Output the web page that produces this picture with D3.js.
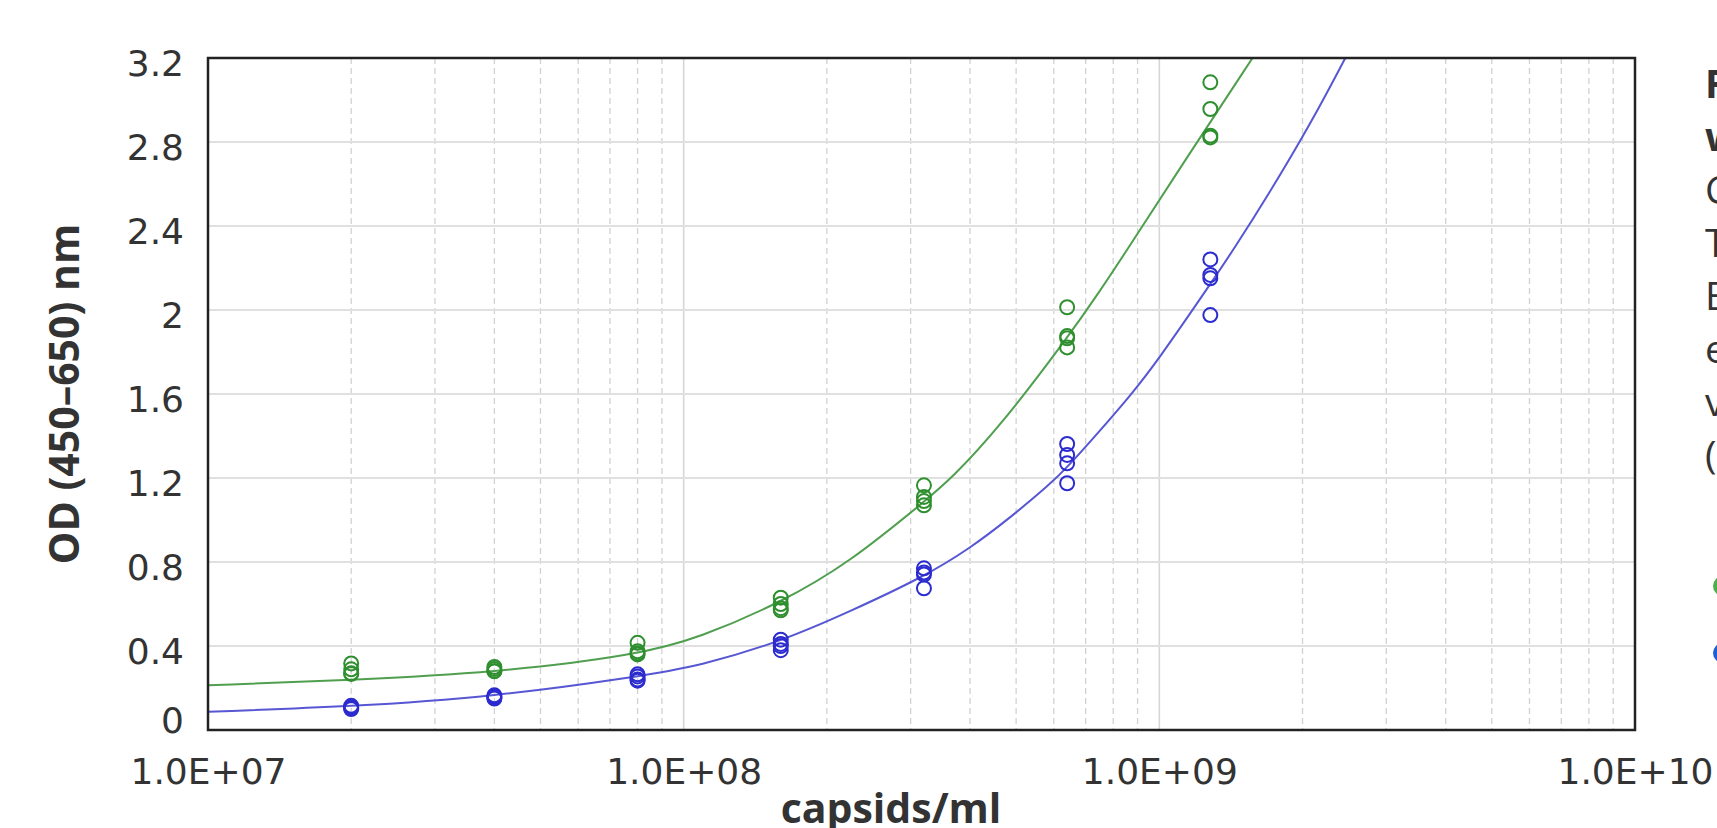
<!DOCTYPE html>
<html>
<head>
<meta charset="utf-8">
<script src="https://cdn.jsdelivr.net/npm/d3@7"></script>
<style>
  body { margin: 0; background: #fff; overflow: hidden; }
  svg { display: block; }
</style>
</head>
<body>
<script>
// Values
const concentrations = [2e7, 4e7, 8e7, 1.6e8, 3.2e8, 6.4e8, 1.28e9];

// four replicate ODs per concentration
const greenReplicates = [
  [0.317, 0.289, 0.267, 0.27],
  [0.30, 0.29, 0.28, 0.28],
  [0.415, 0.375, 0.365, 0.36],
  [0.63, 0.60, 0.58, 0.57],
  [1.165, 1.11, 1.09, 1.07],
  [2.013, 1.876, 1.865, 1.822],
  [3.084, 2.957, 2.83, 2.822]
];
const blueReplicates = [
  [0.115, 0.11, 0.105, 0.10],
  [0.165, 0.16, 0.155, 0.15],
  [0.265, 0.255, 0.24, 0.235],
  [0.43, 0.41, 0.40, 0.38],
  [0.77, 0.75, 0.74, 0.675],
  [1.362, 1.31, 1.27, 1.175],
  [2.241, 2.167, 2.151, 1.976]
];

// fitted curves
const greenFitX = [1e7, 2e7, 4e7, 8e7, 1.08e8, 1.6e8, 2.24e8, 3.2e8, 3.63e8, 4.62e8, 6.4e8, 7.5e8, 8.55e8, 1.17e9, 1.57e9];
const greenFitY = [0.213, 0.238, 0.273, 0.357, 0.44, 0.606, 0.80, 1.087, 1.19, 1.444, 1.865, 2.09, 2.285, 2.762, 3.2];
const blueFitX = [1e7, 2e7, 4e7, 8e7, 1.08e8, 1.6e8, 2.24e8, 3.2e8, 4.0e8, 4.85e8, 5.89e8, 6.4e8, 7.5e8, 8.67e8, 9.86e8, 1.28e9, 1.44e9, 1.68e9, 2.09e9, 2.46e9];
const blueFitY = [0.087, 0.111, 0.159, 0.254, 0.305, 0.421, 0.565, 0.73, 0.865, 1.01, 1.17, 1.25, 1.425, 1.59, 1.75, 2.123, 2.296, 2.534, 2.895, 3.2];

const xTicks = [1e7, 1e8, 1e9, 1e10];
const xTickLabels = ["1.0E+07", "1.0E+08", "1.0E+09", "1.0E+10"];
const yTicks = [0, 0.4, 0.8, 1.2, 1.6, 2, 2.4, 2.8, 3.2];
const yTickLabels = ["0", "0.4", "0.8", "1.2", "1.6", "2", "2.4", "2.8", "3.2"];

const captionLines = ["Figure", "with", "Capsid", "The", "ELISA", "expressed", "values", "(n=4)"];

// Layout
const width = 1717;
const height = 828;
const margin = { top: 58, right: 82, bottom: 98, left: 208 };
const innerWidth = width - margin.left - margin.right;
const innerHeight = height - margin.top - margin.bottom;

const greenLine = "#4f9f4f", greenDot = "#2f8f2f";
const blueLine = "#5757d4", blueDot = "#2b2bcf";

const svg = d3.select("body")
  .append("svg")
  .attr("width", width)
  .attr("height", height);

const x = d3.scaleLog().domain([1e7, 1e10]).range([0, innerWidth]);
const y = d3.scaleLinear().domain([0, 3.2]).range([innerHeight, 0]);

const g = svg.append("g")
  .attr("transform", `translate(${margin.left},${margin.top})`);

svg.append("defs").append("clipPath").attr("id", "plot")
  .append("rect").attr("width", innerWidth).attr("height", innerHeight);

// minor vertical grid (2..9 of each decade), dashed
const minor = [];
[1e7, 1e8, 1e9].forEach(d => { for (let k = 2; k <= 9; k++) minor.push(d * k); });
g.append("g").selectAll("line")
  .data(minor)
  .enter().append("line")
  .attr("x1", d => x(d)).attr("x2", d => x(d))
  .attr("y1", 0).attr("y2", innerHeight)
  .attr("stroke", "#d2d2d2")
  .attr("stroke-width", 1.3)
  .attr("stroke-dasharray", "6,4");

// decade lines
g.append("g").selectAll("line")
  .data(xTicks.slice(1, -1))
  .enter().append("line")
  .attr("x1", d => x(d)).attr("x2", d => x(d))
  .attr("y1", 0).attr("y2", innerHeight)
  .attr("stroke", "#d6d6d6")
  .attr("stroke-width", 1.6);

// horizontal grid
g.append("g").selectAll("line")
  .data(yTicks.slice(1, -1))
  .enter().append("line")
  .attr("x1", 0).attr("x2", innerWidth)
  .attr("y1", d => y(d)).attr("y2", d => y(d))
  .attr("stroke", "#e0e0e0")
  .attr("stroke-width", 2);

// fitted curves
const line = d3.line()
  .x(d => x(d[0]))
  .y(d => y(d[1]))
  .curve(d3.curveBasis);

const curves = g.append("g").attr("clip-path", "url(#plot)");
curves.append("path")
  .datum(d3.zip(greenFitX, greenFitY))
  .attr("fill", "none")
  .attr("stroke", greenLine)
  .attr("stroke-width", 2)
  .attr("d", line);
curves.append("path")
  .datum(d3.zip(blueFitX, blueFitY))
  .attr("fill", "none")
  .attr("stroke", blueLine)
  .attr("stroke-width", 2)
  .attr("d", line);

// replicate points
function flatten(reps) {
  const out = [];
  reps.forEach((r, i) => r.forEach(v => out.push([concentrations[i], v])));
  return out;
}
[[greenReplicates, greenDot], [blueReplicates, blueDot]].forEach(([reps, col]) => {
  g.append("g").selectAll("circle")
    .data(flatten(reps))
    .enter().append("circle")
    .attr("cx", d => x(d[0]))
    .attr("cy", d => y(d[1]))
    .attr("r", 7)
    .attr("fill", "none")
    .attr("stroke", col)
    .attr("stroke-width", 2);
});

// frame
g.append("rect")
  .attr("x", 0).attr("y", 0)
  .attr("width", innerWidth).attr("height", innerHeight)
  .attr("fill", "none")
  .attr("stroke", "#222")
  .attr("stroke-width", 2.5);

// axes (labels only, no tick marks)
const xAxis = d3.axisBottom(x)
  .tickValues(xTicks)
  .tickFormat((d, i) => xTickLabels[i])
  .tickSize(0)
  .tickPadding(28);
const yAxis = d3.axisLeft(y)
  .tickValues(yTicks)
  .tickFormat((d, i) => yTickLabels[i])
  .tickSize(0)
  .tickPadding(24);

const gx = g.append("g")
  .attr("transform", `translate(0,${innerHeight})`)
  .call(xAxis);
const gy = g.append("g").call(yAxis);

[gx, gy].forEach(a => {
  a.select(".domain").remove();
  a.selectAll("text")
    .attr("fill", "#333")
    .style("font-family", "'DejaVu Sans', sans-serif")
    .style("font-size", "36px");
});
gy.selectAll("text").attr("dy", "0.48em");
gy.selectAll("text").filter(d => d === 0).attr("dy", "0.08em");

// axis titles
svg.append("text")
  .attr("transform", `translate(79,${margin.top + innerHeight / 2}) rotate(-90)`)
  .attr("text-anchor", "middle")
  .attr("fill", "#333")
  .style("font-family", "'Open Sans', sans-serif")
  .style("font-weight", "bold")
  .style("font-size", "41px")
  .text("OD (450–650) nm");

svg.append("text")
  .attr("x", 891)
  .attr("y", 823)
  .attr("text-anchor", "middle")
  .attr("fill", "#333")
  .style("font-family", "'Open Sans', sans-serif")
  .style("font-weight", "bold")
  .style("font-size", "41px")
  .text("capsids/ml");

// caption on the right, cut off by the window edge
svg.append("g").selectAll("text")
  .data(captionLines)
  .enter().append("text")
  .attr("x", 1705)
  .attr("y", (d, i) => 98 + i * 53)
  .attr("fill", "#333")
  .style("font-family", "'Open Sans', sans-serif")
  .style("font-weight", (d, i) => i < 2 ? "bold" : "normal")
  .style("font-size", "39px")
  .text(d => d);

// legend markers (mostly outside the window)
svg.append("g").selectAll("circle")
  .data([greenDot, blueDot])
  .enter().append("circle")
  .attr("cx", 1723)
  .attr("cy", (d, i) => 586 + i * 67)
  .attr("r", 10)
  .attr("fill", (d, i) => i === 0 ? "#4caf4c" : "#1f5fd6");
</script>
</body>
</html>
